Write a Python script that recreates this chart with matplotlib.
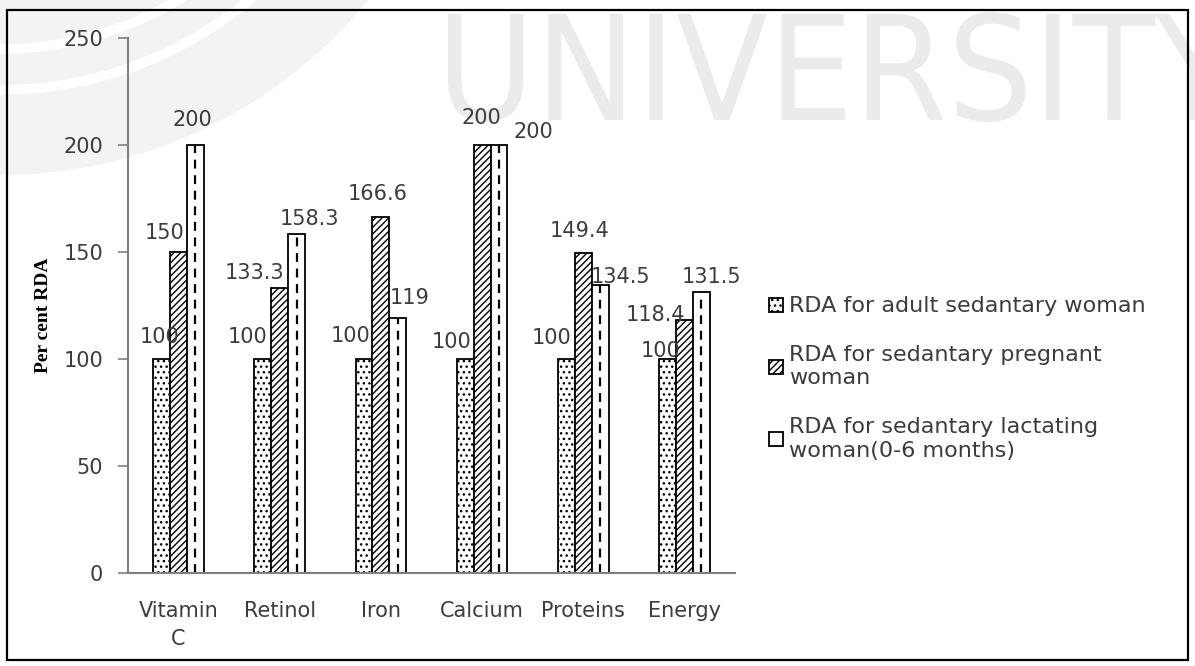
import numpy as np
import matplotlib.pyplot as plt
import matplotlib.patches as patches
from matplotlib.textpath import TextPath
from matplotlib.font_manager import FontProperties
from matplotlib.transforms import Affine2D

# data
categories = ['Vitamin\nC', 'Retinol', 'Iron', 'Calcium', 'Proteins', 'Energy']
adult = [100, 100, 100, 100, 100, 100]
pregnant = [150, 133.3, 166.6, 200, 149.4, 118.4]
lactating = [200, 158.3, 119, 200, 134.5, 131.5]
series_names = ['RDA for adult sedantary woman',
                'RDA for sedantary pregnant\nwoman',
                'RDA for sedantary lactating\nwoman(0-6 months)']
yticks = [0, 50, 100, 150, 200, 250]

# label nudges (pixels, from bar top centre) - labels were hand placed in the original
nudge = [
    [(-2, 22), (-15, 22), (-13, 23), (-14, 17), (-15, 21), (-7, 8)],
    [(-14, 19), (-25, 15), (-3, 23), (-1, 27), (-4, 22), (-29, 5)],
    [(-3, 25), (13, 15), (12, 20), (34, 13), (20, 8), (10, 15)],
]

txt = '#3c3c3c'
fs = 15
plt.rcParams['font.family'] = 'DejaVu Sans'
plt.rcParams['hatch.linewidth'] = 1.0

fig = plt.figure(figsize=(11.95, 6.66), dpi=100)

# faint watermark, drawn in a background axes in pixel units
bg = fig.add_axes([0, 0, 1, 1], zorder=-1)
bg.set_xlim(0, 1195)
bg.set_ylim(666, 0)
bg.axis('off')
bg.add_patch(patches.Circle((0, -300), 475, color='#f3f3f3', lw=0))
for r in [349, 390]:
    bg.add_patch(patches.Circle((0, -300), r, fill=False, edgecolor='white', lw=7))
wm = TextPath((0, 0), 'UNIVERSITY', size=1, prop=FontProperties(family='DejaVu Sans'))
ext = wm.get_extents()
sx = 790 / ext.width
sy = 110 / ext.height
tr = Affine2D().translate(-ext.x0, -ext.y0).scale(sx, -sy).translate(448, 122)
bg.add_patch(patches.PathPatch(tr.transform_path(wm), color='#ebebeb', lw=0))

ax = fig.add_axes([0.1071, 0.1396, 0.508, 0.8033])
ax.patch.set_alpha(0)

x = np.arange(len(categories))
w = 0.167
b0 = ax.bar(x - w, adult, w, color='white', edgecolor='black', hatch='...', lw=1.3, label=series_names[0])
b1 = ax.bar(x, pregnant, w, color='white', edgecolor='black', hatch='/////', lw=1.3, label=series_names[1])
b2 = ax.bar(x + w, lactating, w, color='white', edgecolor='black', lw=1.3, label=series_names[2])
ax.vlines(x + w, 0, lactating, colors='black', linestyles=(0, (4, 3)), lw=1.6)

for j, (vals, off) in enumerate(zip([adult, pregnant, lactating], [-w, 0, w])):
    for i, v in enumerate(vals):
        ax.annotate(f'{v:g}', (x[i] + off, v), xytext=nudge[j][i], textcoords='offset pixels',
                    ha='center', va='center', fontsize=fs, color=txt)

ax.set_xlim(-0.5, len(categories) - 0.5)
ax.set_ylim(0, 250)
ax.set_yticks(yticks)
ax.set_xticks(x)
ax.set_xticklabels(categories, linespacing=1.5)
ax.tick_params(axis='y', direction='out', length=7, width=1.2, color='#808080',
               labelsize=fs, labelcolor=txt, pad=11)
ax.tick_params(axis='x', length=0, labelsize=fs, labelcolor=txt, pad=20)
for s in ['top', 'right']:
    ax.spines[s].set_visible(False)
for s in ['left', 'bottom']:
    ax.spines[s].set_color('#808080')
    ax.spines[s].set_linewidth(1.5)

fig.text(0.036, 0.527, 'Per cent RDA', rotation=90, ha='center', va='center',
         fontsize=14, fontweight='bold', family='Liberation Serif', color='black')

fig.legend(handles=[b0, b1, b2], loc='upper left', bbox_to_anchor=(0.627, 0.585),
           frameon=False, fontsize=16, labelcolor=txt, handlelength=0.6,
           handleheight=0.6, handletextpad=0.3, labelspacing=1.3)

# outer frame
fig.patches.append(patches.Rectangle((7 / 1195, 6 / 666), 1181 / 1195, 650 / 666, fill=False,
                                     lw=1.6, edgecolor='black', transform=fig.transFigure))

fig.savefig('out.png', dpi=100)
